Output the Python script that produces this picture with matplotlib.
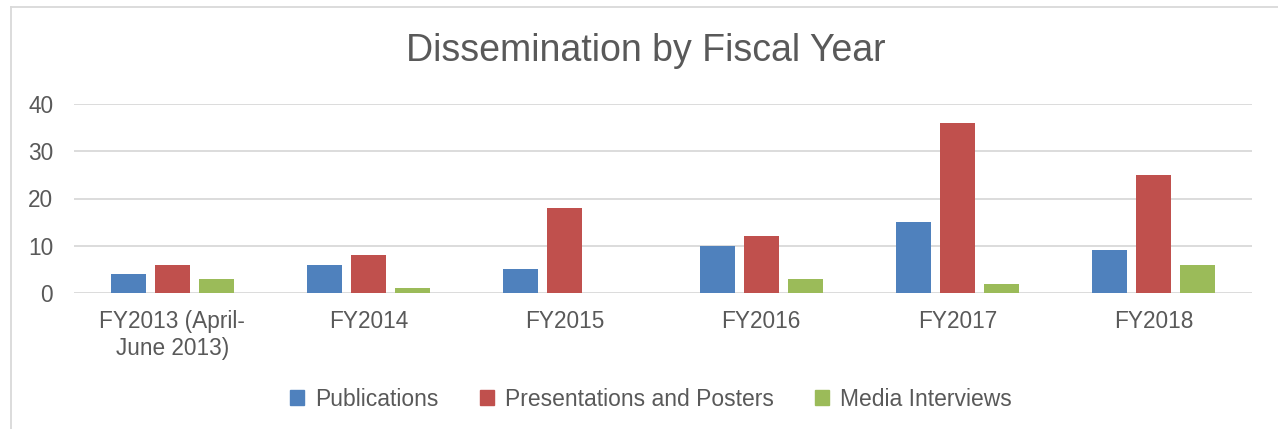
import matplotlib
matplotlib.use("Agg")
import matplotlib.pyplot as plt
from matplotlib.lines import Line2D
import numpy as np

plt.rcParams['font.family'] = ['Liberation Sans', 'DejaVu Sans']

categories = ["FY2013 (April-\nJune 2013)", "FY2014", "FY2015", "FY2016", "FY2017", "FY2018"]
publications = [4, 6, 5, 10, 15, 9]
presentations = [6, 8, 18, 12, 36, 25]
media = [3, 1, 0, 3, 2, 6]
series_names = ["Publications", "Presentations and Posters", "Media Interviews"]
colors = ["#4F81BD", "#C0504D", "#9BBB59"]
yticks = [0, 10, 20, 30, 40]

text_color = "#595959"
grid_color = "#D9D9D9"

fig = plt.figure(figsize=(12.78, 4.29), dpi=100)
W, H = 1278, 429
left, right, top, bottom = 74, 1252, 104, 293
ax = fig.add_axes([left / W, 1 - bottom / H, (right - left) / W, (bottom - top) / H])

x = np.arange(len(categories))
bw = 0.178
gap = 0.046
offsets = [-(bw + gap), 0, bw + gap]
for vals, off, c, name in zip([publications, presentations, media], offsets, colors, series_names):
    ax.bar(x + off, vals, width=bw, color=c, label=name, zorder=3)

ax.set_xlim(-0.5, len(categories) - 0.5)
ax.set_ylim(0, 40)
ax.set_yticks(yticks)
ax.yaxis.grid(True, color=grid_color, linewidth=1.3, zorder=0)
for s in ax.spines.values():
    s.set_visible(False)
ax.tick_params(axis='both', length=0, labelsize=16.3, colors=text_color)
ax.tick_params(axis='y', pad=15)
ax.tick_params(axis='x', pad=12)
ax.set_xticks(x)
ax.set_xticklabels(categories, linespacing=1.25)

fig.text(646 / W, 1 - 51 / H, "Dissemination by Fiscal Year", ha='center', va='center',
         fontsize=27, color=text_color)

handles = [plt.Rectangle((0, 0), 1, 1, color=c) for c in colors]
fig.legend(handles, series_names, loc='center', bbox_to_anchor=(651 / W, 1 - 399 / H),
           ncol=3, frameon=False, fontsize=16.5, labelcolor=text_color,
           handlelength=0.6, handleheight=0.6, handletextpad=0.5, columnspacing=1.8)

# chart-area border (top and left edges)
fig.add_artist(Line2D([11 / W, 1.0], [1 - 7 / H, 1 - 7 / H], color="#D9D9D9", linewidth=1.3))
fig.add_artist(Line2D([11 / W, 11 / W], [0, 1 - 7 / H], color="#D9D9D9", linewidth=1.3))

fig.savefig("out.png", dpi=100)
